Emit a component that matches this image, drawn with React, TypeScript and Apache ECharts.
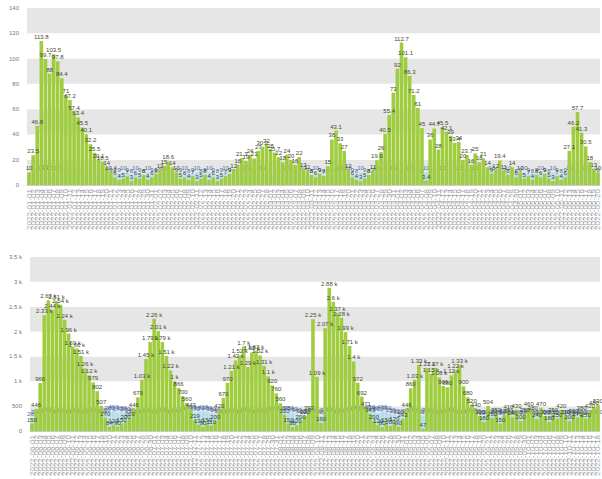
import React, { useEffect, useRef } from "react";
import * as echarts from "echarts";

// ---------- data ----------
const topGreen = [
  10, 23.5, 46.8, 113.8, 99.7, 88, 103.5, 97.8, 84.4, 71, 67.2, 57.4, 53.4, 45.5, 40.1, 32.2, 25.5, 20.1, 18.5, 14, 10.4,
  6, 4, 5, 7, 3, 6, 5, 8, 4, 6,
  9, 12, 15, 18.6, 14, 10,
  5, 6, 4, 7, 3, 5, 8, 4, 6, 3, 5, 7, 9, 12,
  16, 21.3, 19, 24, 21, 27, 30.2, 32, 28, 25.7, 22, 18,
  24, 20, 16, 22, 13, 11, 8, 6, 9, 7,
  15, 36, 43.1, 33, 27,
  12, 6, 4, 3, 5, 8, 11,
  19.6, 26, 40.5, 55.4, 73, 92, 112.7, 101.1, 86.3, 71.2, 61,
  45,
  3.4,
  36, 44.7, 28, 45.5, 42.1, 39, 33.4, 34,
  20, 23.7, 16, 25, 18, 21, 14,
  9, 12, 19.4, 11, 8, 14, 6, 10,
  5, 7, 4, 8, 6, 9, 5, 3, 7, 4, 6,
  27.1, 46.2, 57.7, 41.3, 30.5, 18, 13, 10,
];
const topBlue = [
  5, 8, 9, 10, 11, 10, 9, 10, 9, 8, 9, 8, 9, 8, 7, 8, 9, 8, 9, 8, 9,
  8, 9, 10, 9, 8, 10, 9, 8, 10, 9,
  8, 9, 10, 9, 8, 9,
  9, 10, 8, 9, 10, 8, 9, 10, 9, 8, 9, 10, 9, 8,
  9, 8, 10, 9, 8, 9, 10, 9, 8, 9, 8, 9,
  10, 9, 8, 9, 10, 9, 8, 10, 9, 8,
  9, 8, 9, 10, 9,
  10, 9, 8, 10, 9, 8, 9,
  10, 9, 8, 9, 10, 9, 8, 9, 10, 9, 8,
  9,
  10,
  9, 8, 9, 10, 9, 8, 9, 10,
  9, 8, 9, 10, 9, 8, 9,
  10, 9, 8, 9, 10, 9, 8, 9,
  10, 9, 8, 9, 10, 9, 8, 10, 9, 8, 9,
  10, 9, 8, 9, 10, 9, 8, 9,
];
const bottomGreen = [
  150, 446, 966, 2330, 2630, 2440, 2610, 2540, 2240, 1960, 1690, 1660, 1510, 1260, 1120, 979, 802, 507, 270, 84,
  120, 90, 150, 200, 260,
  446, 679, 1030, 1450, 1790, 2260, 2010, 1790, 1510, 1220, 1000, 866, 700, 560, 443, 219,
  130, 90, 150, 110, 200,
  420, 670, 970, 1210, 1420, 1520, 1700, 1290, 1580, 1620, 1520, 1310, 1100, 920, 760, 560, 330, 150,
  80, 120, 200, 300, 393, 2250, 1090, 160,
  2070, 2880, 2600, 2370, 2280, 1990, 1710, 1400, 972, 692, 471, 343, 200,
  120, 80, 150, 100, 170, 90, 243,
  446, 860, 1030, 1330, 47, 1270, 1150, 1270, 1080, 906, 880, 1120, 1220, 1330, 900, 680, 520, 440,
  300, 180, 504, 260, 350, 150, 320, 410, 280, 430, 200, 350, 460, 380, 240, 470, 300, 180, 350, 250,
  420, 310, 200, 330, 270, 380, 250, 420, 480, 530,
];
const bottomBlue = [
  260, 300, 320, 340, 360, 330, 310, 340, 320, 300, 330, 350, 320, 300, 340, 360, 330, 310, 350, 380,
  400, 370, 390, 360, 340,
  320, 300, 330, 350, 320, 300, 340, 360, 330, 310, 350, 330, 360, 380, 400, 370,
  390, 410, 380, 360, 340,
  320, 300, 330, 350, 320, 300, 340, 360, 330, 310, 350, 330, 360, 380, 400, 370, 390, 380,
  360, 340, 320, 300, 330, 350, 320, 300,
  340, 360, 330, 310, 350, 330, 360, 380, 400, 370, 390, 410, 380,
  360, 400, 380, 350, 330, 310, 300,
  320, 340, 360, 330, 310, 350, 330, 310, 300, 320, 340, 360, 330, 310, 300, 320, 340, 330,
  310, 290, 300, 320, 310, 290, 300, 320, 310, 300, 290, 310, 320, 300, 290, 310, 300, 290, 310, 300,
  290, 310, 300, 290, 310, 300, 290, 300, 310, 300,
];
const topTicks = { min: 0, max: 140, interval: 20 };
const bottomTicks = { min: 0, max: 3500, interval: 500 };

const fmtDate = (d: Date) =>
  `${d.getUTCFullYear()}-${String(d.getUTCMonth() + 1).padStart(2, "0")}-${String(d.getUTCDate()).padStart(2, "0")}`;
const topDates = topGreen.map((_, i) => fmtDate(new Date(Date.UTC(2022, 0, 1 + i))));
const bottomDates = bottomGreen.map((_, i) => fmtDate(new Date(Date.UTC(2022, 5, 1 + i))));

const kFmt = (v: number) => (v >= 1000 ? `${+(v / 1000).toFixed(2)} k` : `${v}`);

export default function App() {
  const ref = useRef<HTMLDivElement>(null);
  useEffect(() => {
    if (!ref.current) return;
    const chart = echarts.init(ref.current, undefined, { renderer: "svg" });
    const GREEN = "#a0cd40";
    const BLUE = "#b3def0";
    const xAxisBase = (gridIndex: number, data: string[]) => ({
      type: "category",
      gridIndex,
      data,
      axisTick: { show: false },
      axisLine: { lineStyle: { color: "#cccccc" } },
      axisLabel: { rotate: 90, interval: 0, fontSize: 8, color: "#a8a8a8", margin: 4 },
    });
    const yAxisBase = (gridIndex: number, t: any, fmt?: any) => ({
      type: "value",
      gridIndex,
      min: t.min,
      max: t.max,
      interval: t.interval,
      splitLine: { show: false },
      splitArea: { show: true, areaStyle: { color: ["#e6e6e6", "#ffffff"] } },
      axisLine: { show: false },
      axisTick: { show: false },
      axisLabel: { fontSize: 6, color: "#777", margin: 8, formatter: fmt },
    });
    const labelCfg = (color: string, fmt?: any) => ({
      show: true,
      position: "top",
      fontSize: 6,
      distance: 1,
      color,
      formatter: fmt,
    });
    chart.setOption({
      animation: false,
      grid: [
        { left: 27, right: 2, top: 8, height: 177 },
        { left: 30, right: 2, top: 257, height: 175 },
      ],
      xAxis: [xAxisBase(0, topDates), xAxisBase(1, bottomDates)],
      yAxis: [yAxisBase(0, topTicks), yAxisBase(1, bottomTicks, kFmt)],
      series: [
        {
          type: "bar",
          xAxisIndex: 0,
          yAxisIndex: 0,
          data: topBlue,
          barCategoryGap: "12%",
          itemStyle: { color: BLUE },
          label: labelCfg("#4a6aa5"),
          z: 1,
        },
        {
          type: "bar",
          xAxisIndex: 0,
          yAxisIndex: 0,
          data: topGreen,
          barGap: "-100%",
          barCategoryGap: "12%",
          itemStyle: { color: GREEN },
          label: labelCfg("#3f4a2a"),
          z: 2,
        },
        {
          type: "bar",
          xAxisIndex: 1,
          yAxisIndex: 1,
          data: bottomBlue,
          barCategoryGap: "12%",
          itemStyle: { color: BLUE },
          label: labelCfg("#4a6aa5", (p: any) => kFmt(p.value)),
          z: 1,
        },
        {
          type: "bar",
          xAxisIndex: 1,
          yAxisIndex: 1,
          data: bottomGreen,
          barGap: "-100%",
          barCategoryGap: "12%",
          itemStyle: { color: GREEN },
          label: labelCfg("#3f4a2a", (p: any) => kFmt(p.value)),
          z: 2,
        },
      ],
    });
    return () => chart.dispose();
  }, []);
  return (
    <div
      ref={ref}
      style={{ position: "absolute", left: 0, top: 0, width: 602, height: 479, background: "#fff" }}
    />
  );
}
